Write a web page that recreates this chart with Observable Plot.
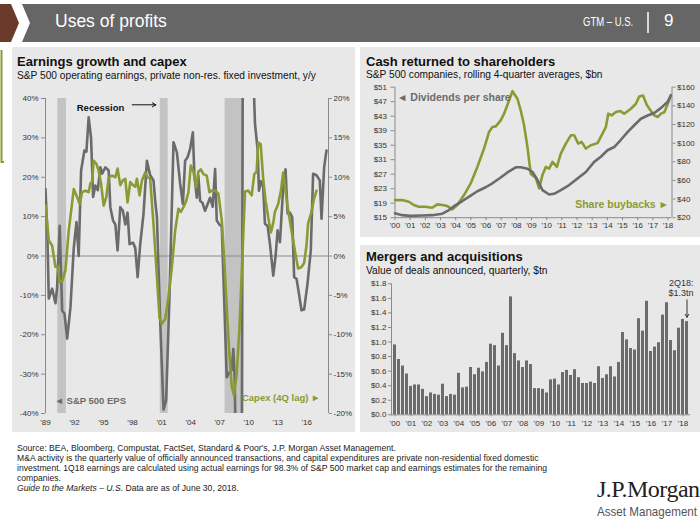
<!DOCTYPE html>
<html><head><meta charset="utf-8">
<script src="https://cdn.jsdelivr.net/npm/d3@7"></script>
<script src="https://cdn.jsdelivr.net/npm/@observablehq/plot@0.6"></script>
<style>
body{margin:0;width:700px;height:525px;position:relative;background:#fff;font-family:"Liberation Sans",Arial,sans-serif;overflow:hidden;color:#111}
.abs{position:absolute}
.panel{position:absolute;background:#e8e8e8}
.ttl{position:absolute;font-weight:bold;font-size:13px;color:#111;white-space:nowrap}
.sub{position:absolute;font-size:10.2px;color:#111;white-space:nowrap}
.foot{position:absolute;left:17px;top:443px;font-size:8.6px;line-height:10px;color:#222;white-space:nowrap}
</style></head><body>
<svg class="abs" style="left:0;top:0" width="700" height="46">
  <polygon points="0,4 11,4 19,23 11,42 0,42" fill="#6b3b2a"/>
  <polygon points="22,4 700,4 700,42 22,42 30,23" fill="#666"/>
  <line x1="648" y1="12" x2="648" y2="33" stroke="#fff" stroke-width="1.5"/>
</svg>
<div class="abs" style="left:55px;top:11px;font-size:17.5px;color:#fff">Uses of profits</div>
<div class="abs" style="left:583px;top:15px;font-size:12.5px;color:#fff;transform:scaleX(0.76);transform-origin:left;white-space:nowrap">GTM – U.S.</div>
<div class="abs" style="left:664px;top:11px;font-size:17px;color:#fff">9</div>
<svg class="abs" style="left:0;top:48px" width="6" height="120"><path d="M1.5,2 V114 H4" fill="none" stroke="#8c9a33" stroke-width="2"/></svg>

<div class="panel" style="left:12px;top:47px;width:343px;height:385px"></div>
<div class="panel" style="left:360px;top:47px;width:340px;height:190px"></div>
<div class="panel" style="left:360px;top:245px;width:340px;height:187px"></div>

<div class="ttl" style="left:17px;top:54px">Earnings growth and capex</div>
<div class="sub" style="left:17px;top:70px">S&amp;P 500 operating earnings, private non-res. fixed investment, y/y</div>
<div class="ttl" style="left:366px;top:54px">Cash returned to shareholders</div>
<div class="sub" style="left:366px;top:69px">S&amp;P 500 companies, rolling 4-quarter averages, $bn</div>
<div class="ttl" style="left:366px;top:249px">Mergers and acquisitions</div>
<div class="sub" style="left:366px;top:265px">Value of deals announced, quarterly, $tn</div>

<div id="left" class="abs" style="left:12px;top:85px"></div>
<div id="cash" class="abs" style="left:360px;top:82px"></div>
<div id="mna" class="abs" style="left:360px;top:278px"></div>

<div class="foot">Source: BEA, Bloomberg, Compustat, FactSet, Standard &amp; Poor's, J.P. Morgan Asset Management.<br>
M&amp;A activity is the quarterly value of officially announced transactions, and capital expenditures are private non-residential fixed domestic<br>
investment. 1Q18 earnings are calculated using actual earnings for 98.3% of S&amp;P 500 market cap and earnings estimates for the remaining<br>
companies.<br>
<i>Guide to the Markets – U.S.</i> Data are as of June 30, 2018.</div>
<div class="abs" style="left:597px;top:476px;font-family:'Liberation Serif','DejaVu Serif',serif;font-size:24px;color:#222;white-space:nowrap;letter-spacing:-0.5px">J.P.Morgan</div>
<div class="abs" style="left:597px;top:504px;font-size:13.5px;color:#555;white-space:nowrap;transform:scaleX(0.86);transform-origin:left">Asset Management</div>

<script>
// ---------- Earnings growth and capex ----------
const epsSeries = [[1989.0,17],[1989.18,6.5],[1989.34,-10.8],[1989.69,-8.3],[1990.03,-12],[1990.2,-8],[1990.47,7.7],[1990.72,-13.9],[1990.96,-14.6],[1991.24,-21],[1991.58,-13],[1991.92,2],[1992.2,8.6],[1992.43,0],[1992.68,21.7],[1993.02,26.8],[1993.23,26.5],[1993.46,35.2],[1993.71,30],[1993.92,15],[1994.15,17.9],[1994.4,16.7],[1994.67,22.5],[1994.85,20.9],[1995.19,22.5],[1995.53,21.7],[1995.7,12.4],[1995.98,9],[1996.22,8],[1996.45,1.4],[1996.73,12.4],[1997.0,11.5],[1997.25,8],[1997.48,11],[1997.69,3],[1998.04,3.4],[1998.28,2],[1998.52,-5.4],[1998.79,3],[1999.13,10.7],[1999.48,24.2],[1999.82,20.5],[2000.16,19.2],[2000.34,14],[2000.52,9.8],[2000.86,-17],[2001.2,-39],[2001.47,-36.7],[2001.81,-10.5],[2002.23,28.9],[2002.58,26.3],[2002.92,18.3],[2003.2,13.2],[2003.43,24.2],[2003.67,25],[2003.95,27.2],[2004.23,31.4],[2004.39,20.4],[2004.64,14.8],[2004.8,20.4],[2004.98,14],[2005.22,13.5],[2005.49,11.5],[2005.73,13],[2006.01,14.8],[2006.29,12.5],[2006.53,22.1],[2006.7,9],[2006.97,8],[2007.22,7.5],[2007.73,-30.8],[2008.0,-29.6],[2008.25,-29],[2008.41,-23.6],[2008.55,-30.8],[2008.8,-70],[2009.05,-75],[2009.25,-90],[2009.45,110],[2009.7,150],[2010.0,140],[2010.25,100],[2010.5,45],[2010.65,33.6],[2010.93,26.8],[2011.06,16.6],[2011.27,19],[2011.5,17.5],[2011.68,8.2],[2011.96,7.6],[2012.2,3],[2012.54,-5],[2012.78,0],[2012.99,6.5],[2013.23,3.5],[2013.57,17.5],[2013.81,22],[2014.02,10.8],[2014.26,11],[2014.5,9.8],[2014.7,-5.4],[2014.95,-5.8],[2015.19,-9.5],[2015.46,-13.8],[2015.73,-13.6],[2016.08,-7],[2016.42,1.4],[2016.66,20.9],[2017.01,20.5],[2017.35,19.2],[2017.53,9.5],[2017.8,22.5],[2018.04,26.8]];
const capexSeries = [[1989.0,6.4],[1989.34,2.0],[1989.69,1.3],[1990.03,-1.4],[1990.27,-1.3],[1990.47,-3.3],[1990.72,-3.2],[1991.06,-1.8],[1991.4,3.2],[1991.92,8.5],[1992.27,7.5],[1992.54,6.6],[1992.78,8.1],[1993.12,8.3],[1993.46,8.1],[1993.64,9.2],[1993.81,9.4],[1993.98,12.1],[1994.26,11.7],[1994.5,10.8],[1994.74,9.2],[1995.01,6.4],[1995.29,7.5],[1995.53,10],[1995.88,10.2],[1996.22,10],[1996.45,11.1],[1996.73,9],[1997.0,9.6],[1997.25,9.8],[1997.48,6.8],[1997.76,9.4],[1998.04,9],[1998.28,8.8],[1998.45,9.8],[1998.72,7.7],[1998.97,9.6],[1999.31,10.6],[1999.55,10],[1999.82,9.8],[2000.16,4.1],[2000.52,-2.7],[2000.78,-7.8],[2001.03,-8.6],[2001.37,-8.0],[2001.71,-5.2],[2002.06,-1.4],[2002.4,3.2],[2002.74,6],[2002.99,5.6],[2003.26,6.2],[2003.54,7],[2003.77,8.1],[2004.02,11.5],[2004.29,10.7],[2004.57,8.7],[2004.8,10.7],[2005.05,11],[2005.32,10.4],[2005.67,10.2],[2005.94,8.1],[2006.19,8.3],[2006.53,8.3],[2006.87,7.9],[2007.22,4.5],[2007.45,0],[2007.73,-6.5],[2008.0,-12.4],[2008.25,-16.6],[2008.48,-17.7],[2008.76,-15],[2009.03,-9.5],[2009.28,-2.3],[2009.62,8.2],[2009.96,8.3],[2010.31,7.7],[2010.58,10.4],[2010.82,10.7],[2010.99,14.4],[2011.24,14.2],[2011.5,9.8],[2011.75,7],[2012.02,4.9],[2012.3,3],[2012.54,4.2],[2012.71,5.6],[2013.05,6.6],[2013.33,8.3],[2013.57,10.6],[2013.81,8.3],[2014.08,5.8],[2014.43,3.2],[2014.77,0.7],[2015.11,-1.6],[2015.46,-1.4],[2015.73,-0.9],[2015.98,1.4],[2016.14,4.1],[2016.49,5.6],[2016.76,7.3],[2017.01,8.3]];
const recessionStart = [1990.27, 2000.86, 2007.56];
const recessionEnd   = [1991.16, 2001.68, 2009.5];
const epsTicks = [-40,-30,-20,-10,0,10,20,30,40];
const capexTickLabels = ["-20%","-15%","-10%","-5%","0%","5%","10%","15%","20%"];
const yearTicksLeft = [1989,1992,1995,1998,2001,2004,2007,2010,2013,2016];

// ---------- Cash returned to shareholders ----------
const dividendSeries = [[2000.0,16.2],[2000.47,15.7],[2001.02,15.5],[2001.79,15.6],[2002.45,15.7],[2003.12,16.1],[2003.56,17.1],[2004.0,18.5],[2004.44,19.6],[2004.99,21.1],[2005.43,22.3],[2005.98,23.4],[2006.42,24.5],[2006.97,26.1],[2007.52,27.8],[2007.96,28.9],[2008.29,28.9],[2008.73,28.5],[2009.06,27.6],[2009.39,25.4],[2009.72,22.6],[2010.16,21.4],[2010.49,21.6],[2010.93,22.6],[2011.48,24.0],[2012.03,25.8],[2012.58,27.6],[2013.13,30.4],[2013.57,31.8],[2014.01,33.6],[2014.45,34.5],[2014.89,36.5],[2015.33,38.6],[2015.77,40.5],[2016.21,42.3],[2016.65,43.2],[2017.09,43.9],[2017.54,45.3],[2017.98,47.0],[2018.18,48.8]];
const buybackSeries = [[2000.0,38.9],[2000.47,38.9],[2000.91,37.1],[2001.24,33.6],[2001.57,31.8],[2002.01,31.8],[2002.45,30.7],[2002.79,34.3],[2003.12,33.6],[2003.45,32.5],[2003.78,29.0],[2004.11,33.6],[2004.55,44.3],[2004.99,56.8],[2005.43,74.5],[2005.87,94.2],[2006.2,112],[2006.42,117.3],[2006.64,118],[2006.97,124.4],[2007.19,131.6],[2007.52,145.8],[2007.74,155.7],[2008.07,147.6],[2008.29,135],[2008.5,120],[2008.73,96],[2008.95,67],[2009.06,65.7],[2009.28,63],[2009.5,51.4],[2009.72,65.7],[2009.94,74.5],[2010.16,72.7],[2010.38,79.9],[2010.67,74.5],[2010.93,88.8],[2011.26,99.5],[2011.59,108.4],[2011.81,108.4],[2012.08,99.5],[2012.3,101.3],[2012.58,94.2],[2012.91,97.7],[2013.35,100],[2013.68,110.2],[2013.9,117.3],[2014.06,131.6],[2014.28,129.8],[2014.56,133.3],[2014.85,134.4],[2015.11,131.6],[2015.55,136.9],[2015.88,142.2],[2016.1,150],[2016.35,151],[2016.6,141],[2016.8,136],[2017.09,129.8],[2017.31,128],[2017.54,131.6],[2017.76,133.3],[2017.98,142],[2018.18,151]];
const dividendTicks = [15,19,23,27,31,35,39,43,47,51];
const buybackTicks = [20,40,60,80,100,120,140,160];
const yearTicksCash = [2000,2001,2002,2003,2004,2005,2006,2007,2008,2009,2010,2011,2012,2013,2014,2015,2016,2017,2018];

// ---------- Mergers and acquisitions ----------
const mnaYears = [2000,2001,2002,2003,2004,2005,2006,2007,2008,2009,2010,2011,2012,2013,2014,2015,2016,2017,2018];
const mnaValues = [0.96,0.76,0.67,0.56, 0.39,0.41,0.41,0.35, 0.25,0.30,0.28,0.27, 0.42,0.25,0.28,0.27, 0.57,0.37,0.38,0.65, 0.55,0.64,0.59,0.72, 0.97,0.95,0.67,1.12, 0.95,1.62,0.84,0.74, 0.65,0.74,0.69,0.36, 0.36,0.35,0.30,0.48, 0.49,0.41,0.58,0.61, 0.54,0.62,0.51,0.43, 0.43,0.45,0.43,0.66, 0.50,0.55,0.66,0.52, 0.72,1.13,1.03,0.91, 0.89,1.32,1.15,1.56, 0.87,0.93,0.99,1.37, 1.54,1.02,0.88,1.19, 1.31,1.28];
const mnaTicks = [0,0.2,0.4,0.6,0.8,1.0,1.2,1.4,1.6,1.8];

const grey = "#6b6b6b", olive = "#8c9a33", axisGrey = "#8a8a8a";
const baseStyle = {fontFamily:"'Liberation Sans',Arial,sans-serif", fontSize:"8px", background:"transparent", color:"#333", overflow:"visible"};
const yr = d => "'" + String(d).slice(2);

// Left chart
const eps = epsSeries.map(([t,v]) => ({t,v}));
const capex = capexSeries.map(([t,v]) => ({t,v}));
const recessions = recessionStart.map((s,i) => ({s, e: recessionEnd[i]}));
const leftX = [1989, 2018.25];
const left = Plot.plot({
  width:343, height:345, marginLeft:33, marginRight:27, marginTop:13, marginBottom:17,
  style: baseStyle,
  x:{domain:leftX, axis:null, label:null},
  y:{domain:[-40,40], axis:null, label:null},
  marks:[
    Plot.rect(recessions, {x1:"s", x2:"e", fill:"#c3c3c3"}),
    Plot.ruleY([0], {stroke:axisGrey}),
    Plot.ruleX(leftX, {stroke:axisGrey}),
    Plot.line(eps, {x:"t", y:"v", stroke:grey, strokeWidth:2.6, clip:true}),
    Plot.line(capex, {x:"t", y:d => d.v*2, stroke:olive, strokeWidth:2.6, clip:true}),
    Plot.axisY({anchor:"left", label:null, ticks:epsTicks, tickFormat:d => d+"%", tickSize:4, tickPadding:3, stroke:axisGrey}),
    Plot.axisY({anchor:"right", label:null, ticks:epsTicks, tickFormat:d => capexTickLabels[epsTicks.indexOf(d)], tickSize:3, tickPadding:2, stroke:axisGrey}),
    Plot.axisX({anchor:"bottom", label:null, ticks:yearTicksLeft, tickFormat:yr, tickSize:0, tickPadding:6}),
    Plot.text(["Recession"], {frameAnchor:"top-left", dx:55, dy:6, textAnchor:"middle", fontWeight:"bold", fontSize:9.5, fill:"#111"}),
    Plot.arrow([0], {x1:recessionStart[1]-2.9, x2:recessionStart[1]-0.45, y1:38.4, y2:38.4, stroke:"#111", strokeWidth:1, headLength:6}),
    Plot.text(["◄ S&P 500 EPS"], {frameAnchor:"bottom-left", dx:9, dy:-10, textAnchor:"start", fontWeight:"bold", fontSize:9.5, fill:grey}),
    Plot.text(["Capex (4Q lag) ►"], {frameAnchor:"bottom-right", dx:-8, dy:-13, textAnchor:"end", fontWeight:"bold", fontSize:9.5, fill:olive})
  ]
});
document.getElementById("left").append(left);

// Cash chart
const toLeft = b => 15 + (b-20)*36/140;
const divs = dividendSeries.map(([t,v]) => ({t,v}));
const buys = buybackSeries.map(([t,v]) => ({t,v}));
const cashX = [2000, 2018.26];
const buyTickPos = buybackTicks.map(toLeft);
const cash = Plot.plot({
  width:340, height:155, marginLeft:34.5, marginRight:28.5, marginTop:4.7, marginBottom:19.8,
  style: baseStyle,
  x:{domain:cashX, axis:null, label:null},
  y:{domain:[15,51], axis:null, label:null},
  marks:[
    Plot.ruleX(cashX, {stroke:axisGrey}),
    Plot.ruleY([15], {stroke:axisGrey}),
    Plot.line(buys, {x:"t", y:d => toLeft(d.v), stroke:olive, strokeWidth:2.6}),
    Plot.line(divs, {x:"t", y:"v", stroke:grey, strokeWidth:2.6}),
    Plot.axisY({anchor:"left", label:null, ticks:dividendTicks, tickFormat:d => "$"+d, tickSize:4, tickPadding:4, stroke:axisGrey}),
    Plot.axisY({anchor:"right", label:null, ticks:buyTickPos, tickFormat:d => "$"+buybackTicks[buyTickPos.indexOf(d)], tickSize:3, tickPadding:2, stroke:axisGrey}),
    Plot.axisX({anchor:"bottom", label:null, ticks:yearTicksCash, tickFormat:yr, tickSize:3, tickPadding:2, stroke:axisGrey}),
    Plot.text(["◄ Dividends per share"], {frameAnchor:"top-left", dx:2, dy:6, textAnchor:"start", fontWeight:"bold", fontSize:10.5, fill:grey}),
    Plot.text(["Share buybacks ►"], {frameAnchor:"bottom-right", dx:-3, dy:-10, textAnchor:"end", fontWeight:"bold", fontSize:10.5, fill:olive})
  ]
});
document.getElementById("cash").append(cash);

// M&A chart
const quarters = mnaYears.flatMap(y => [1,2,3,4].map(q => y+"Q"+q)).slice(0, mnaValues.length);
const mna = mnaValues.map((v,i) => ({q: quarters[i], v}));
const last = mna[mna.length-1];
const mnaPlot = Plot.plot({
  width:340, height:152, marginLeft:31, marginRight:10, marginTop:5.3, marginBottom:15.7,
  style: baseStyle,
  x:{type:"band", domain:quarters, paddingInner:0.28, paddingOuter:0.1, axis:null, label:null},
  y:{domain:[0,1.8], axis:null, label:null},
  marks:[
    Plot.barY(mna, {x:"q", y:"v", fill:"#6b6b6b"}),
    Plot.frame({anchor:"left", stroke:axisGrey}),
    Plot.ruleY([0], {stroke:axisGrey}),
    Plot.axisY({anchor:"left", label:null, ticks:mnaTicks, tickFormat:d => "$"+d.toFixed(1), tickSize:3, tickPadding:2, stroke:axisGrey}),
    Plot.axisX({anchor:"bottom", label:null, ticks:quarters.filter(q => q.endsWith("Q1")), tickFormat:q => "'"+q.slice(2,4), tickSize:2, tickPadding:4, stroke:axisGrey}),
    Plot.text(["2Q18:\n$1.3tn"], {frameAnchor:"top-right", dx:3, dy:-5, textAnchor:"end", lineAnchor:"top", lineHeight:1.15, fontSize:9, fill:"#333"}),
    Plot.arrow([last], {x1:"q", x2:"q", y1:d => d.v+0.3, y2:d => d.v+0.06, stroke:"#333", strokeWidth:1, headLength:5})
  ]
});
document.getElementById("mna").append(mnaPlot);
</script>
</body></html>
